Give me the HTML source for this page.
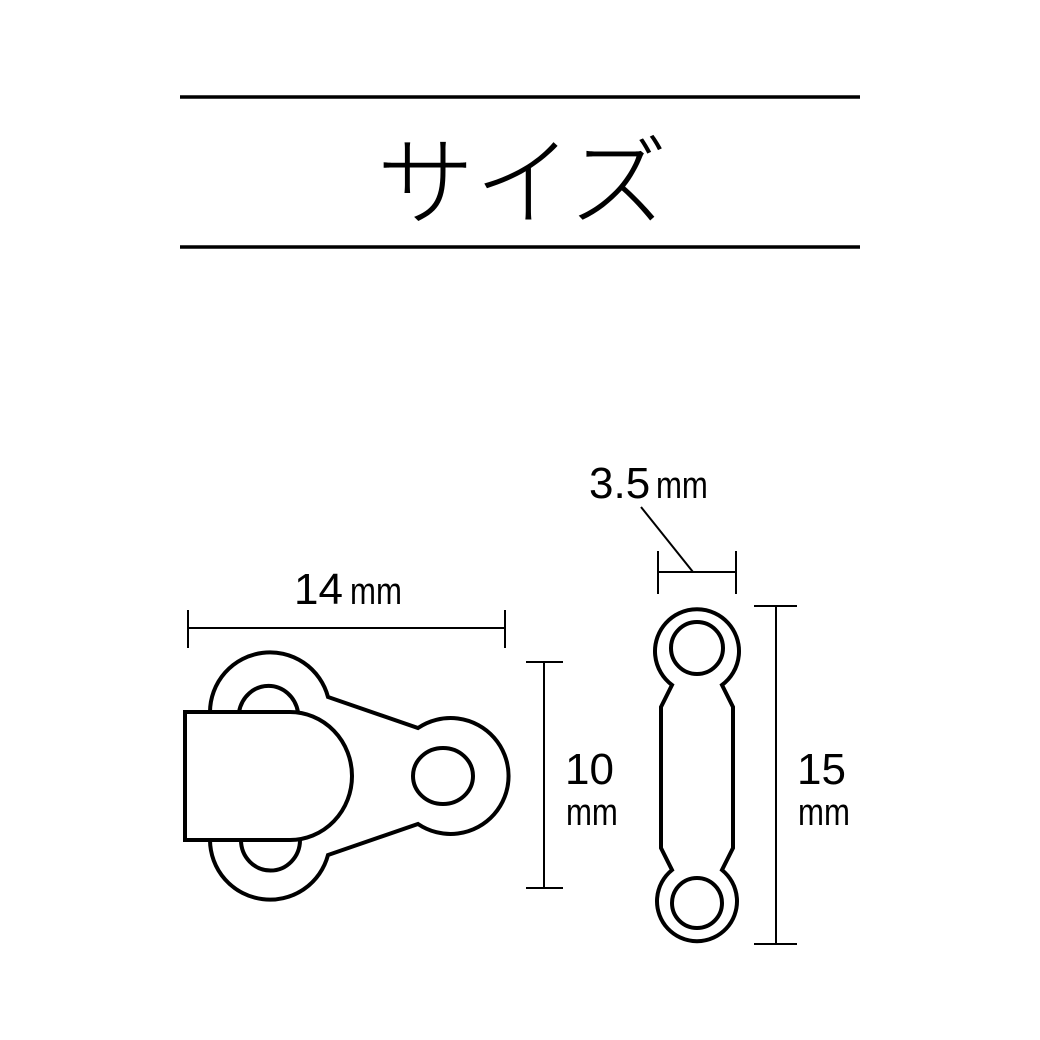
<!DOCTYPE html>
<html><head><meta charset="utf-8"><style>
html,body{margin:0;padding:0;background:#fff;}
svg{display:block}
text{font-family:"Liberation Sans","Noto Sans CJK JP",sans-serif;fill:#000}
</style></head><body>
<svg width="1040" height="1040" viewBox="0 0 1040 1040" xmlns="http://www.w3.org/2000/svg">
<rect width="1040" height="1040" fill="#fff"/>
<line x1="180" y1="97" x2="860" y2="97" stroke="#000" stroke-width="3.5"/>
<line x1="180" y1="247" x2="860" y2="247" stroke="#000" stroke-width="3.5"/>
<text x="522" y="217" font-size="98" font-weight="300" text-anchor="middle" style="font-family:'Noto Sans CJK JP',sans-serif">サイズ</text>

<g stroke="#000" stroke-width="2" fill="none">
<line x1="188" y1="628" x2="505" y2="628"/>
<line x1="188" y1="610" x2="188" y2="648"/>
<line x1="505" y1="610" x2="505" y2="648"/>
<line x1="544" y1="662" x2="544" y2="888"/>
<line x1="526" y1="662" x2="563" y2="662"/>
<line x1="526" y1="888" x2="563" y2="888"/>
<line x1="776" y1="606" x2="776" y2="944"/>
<line x1="754" y1="606" x2="797" y2="606"/>
<line x1="754" y1="944" x2="797" y2="944"/>
<line x1="658" y1="572" x2="736" y2="572"/>
<line x1="658" y1="551" x2="658" y2="594"/>
<line x1="736" y1="551" x2="736" y2="594"/>
<line x1="641" y1="507" x2="693" y2="572"/>
</g>
<text x="294" y="604" font-size="44">14</text>
<text x="350" y="604" font-size="38" transform="translate(350 0) scale(0.82 1) translate(-350 0)">mm</text>
<text x="589" y="498" font-size="44">3.5</text>
<text x="656" y="498" font-size="38" transform="translate(656 0) scale(0.82 1) translate(-656 0)">mm</text>
<text x="565" y="784" font-size="44">10</text>
<text x="566" y="825" font-size="38" transform="translate(566 0) scale(0.82 1) translate(-566 0)">mm</text>
<text x="797" y="784" font-size="44">15</text>
<text x="798" y="825" font-size="38" transform="translate(798 0) scale(0.82 1) translate(-798 0)">mm</text>

<g stroke="#000" stroke-width="4" fill="#fff">
<path d="M210 712 A60 60 0 0 1 328 697 L418 728 A58 58 0 1 1 418 824 L328 855 A60 60 0 0 1 210 840 Z"/>
<ellipse cx="443" cy="776" rx="30" ry="28"/>
<path d="M239 712 A30 32 0 0 1 298 712"/>
<path d="M241 840 A29 30 0 0 0 300 840"/>
<path d="M185 712 L290 712 A62 64 0 0 1 290 840 L185 840 Z"/>
</g>

<g stroke="#000" stroke-width="4" fill="#fff">
<path d="M672 685 A42 42 0 1 1 722 685 L733 707 L733 848 L722 870 A40 40 0 1 1 672 870 L661 848 L661 707 Z"/>
<circle cx="697" cy="648" r="26"/>
<circle cx="697" cy="903" r="25"/>
</g>
</svg>
</body></html>
